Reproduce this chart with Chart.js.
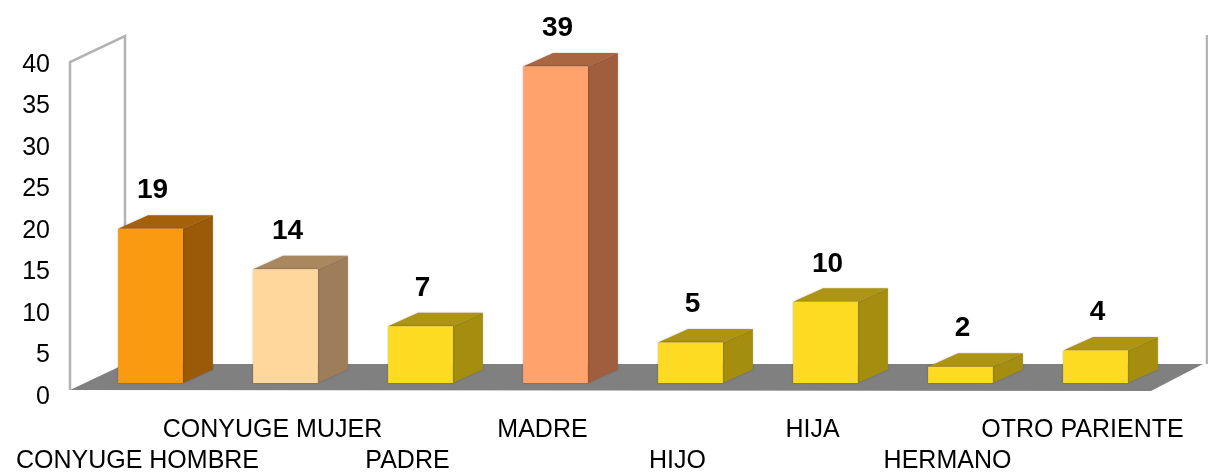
<!DOCTYPE html>
<html>
<head>
<meta charset="utf-8">
<script src="https://cdn.jsdelivr.net/npm/chart.js@4.4.1/dist/chart.umd.min.js"></script>
<style>
    html, body { margin: 0; padding: 0; background: #fff; }
    canvas { display: block; }
</style>
</head>
<body>
<canvas id="parentesco-chart" width="1208" height="472"></canvas>
<script>
// Parentesco con el jefe de hogar
const categories = ['CONYUGE HOMBRE', 'CONYUGE MUJER', 'PADRE', 'MADRE', 'HIJO', 'HIJA', 'HERMANO', 'OTRO PARIENTE'];
const values = [19, 14, 7, 39, 5, 10, 2, 4];
const yTicks = [0, 5, 10, 15, 20, 25, 30, 35, 40];

// front / side / top colour per bar
const frontColors = ['#F99A10', '#FFD69C', '#FDDB22', '#FFA26C', '#FDDB22', '#FDDB22', '#FDDB22', '#FDDB22'];
const sideColors  = ['#9B5A08', '#9E7D5B', '#A58D10', '#A15E3E', '#A58D10', '#A58D10', '#A58D10', '#A58D10'];
const topColors   = ['#A5610A', '#A9875F', '#AD9414', '#AA6541', '#AD9414', '#AD9414', '#AD9414', '#AD9414'];

const FONT = "'Liberation Sans', Arial, sans-serif";

// 3D geometry (pixels)
const WALL_DEPTH = { dx: 55, dy: -26 };
const BAR_SHIFT = { dx: 13, dy: -14 };
const BAR_DEPTH = { dx: 30, dy: -13.5 };
const BAR_SCALE = 0.978;

// Odd categories on the upper label row, even ones on the lower row
const xLabels = categories.map((c, i) => i % 2 === 0 ? ['', c] : [c, '']);

function poly(ctx, pts, fill) {
    ctx.beginPath();
    ctx.moveTo(pts[0][0], pts[0][1]);
    for (let i = 1; i < pts.length; i++) ctx.lineTo(pts[i][0], pts[i][1]);
    ctx.closePath();
    ctx.fillStyle = fill;
    ctx.fill();
}

const room3d = {
    id: 'room3d',
    beforeDatasetsDraw(chart) {
        const { ctx, chartArea, scales } = chart;
        const y0 = scales.y.getPixelForValue(0) - 7;
        const yTop = scales.y.getPixelForValue(40) - 3;
        const l = chartArea.left, r = chartArea.right + 1;
        const { dx, dy } = WALL_DEPTH;

        ctx.save();
        // floor
        poly(ctx, [[l, y0], [r, y0 + 1], [r + dx - 3, y0 + dy], [l + dx, y0 + dy]], '#808080');

        // left wall outline and back right edge
        ctx.strokeStyle = '#B3B3B3';
        ctx.lineWidth = 2.5;
        ctx.beginPath();
        ctx.moveTo(l, y0);
        ctx.lineTo(l, yTop);
        ctx.lineTo(l + dx, yTop + dy);
        ctx.lineTo(l + dx, y0 + dy);
        ctx.moveTo(r + dx + 1, yTop + dy - 1);
        ctx.lineTo(r + dx + 1, y0 + dy);
        ctx.stroke();
        ctx.restore();
    },
    afterDatasetsDraw(chart) {
        const { ctx } = chart;
        const meta = chart.getDatasetMeta(0);
        ctx.save();
        meta.data.forEach((bar, i) => {
            const props = bar.getProps(['x', 'y', 'base', 'width'], true);
            const left = props.x - props.width / 2 + BAR_SHIFT.dx;
            const right = props.x + props.width / 2 + BAR_SHIFT.dx;
            const bottom = props.base + BAR_SHIFT.dy;
            const top = bottom - (props.base - props.y) * BAR_SCALE;
            const { dx, dy } = BAR_DEPTH;

            ctx.shadowColor = 'rgba(0,0,0,0.25)';
            ctx.shadowBlur = 2;
            // side face
            poly(ctx, [[right, bottom], [right, top], [right + dx, top + dy], [right + dx, bottom + dy]], sideColors[i]);
            // top face
            poly(ctx, [[left, top], [left + dx, top + dy], [right + dx, top + dy], [right, top]], topColors[i]);
            // front face
            poly(ctx, [[left, bottom], [left, top], [right, top], [right, bottom]], frontColors[i]);
            ctx.shadowBlur = 0;

            // value label
            ctx.fillStyle = '#000';
            ctx.font = 'bold 28px ' + FONT;
            ctx.textAlign = 'center';
            ctx.textBaseline = 'middle';
            ctx.fillText(String(values[i]), (left + right) / 2 + 2, top - 38);
        });
        ctx.restore();
    }
};

const ctx = document.getElementById('parentesco-chart').getContext('2d');
new Chart(ctx, {
    type: 'bar',
    data: {
        labels: xLabels,
        datasets: [{
            data: values,
            backgroundColor: 'rgba(0,0,0,0)',
            borderWidth: 0,
            categoryPercentage: 1,
            barPercentage: 0.48
        }]
    },
    options: {
        responsive: false,
        devicePixelRatio: 1,
        animation: false,
        layout: { padding: { top: 65, right: 58, left: 0, bottom: 0 } },
        plugins: {
            legend: { display: false },
            tooltip: { enabled: false }
        },
        scales: {
            x: {
                grid: { display: false, drawTicks: false },
                border: { display: false },
                ticks: {
                    autoSkip: false,
                    maxRotation: 0,
                    minRotation: 0,
                    padding: 18,
                    color: '#000',
                    font: { family: FONT, size: 25, lineHeight: 1.24 }
                },
                afterFit(scale) {
                    scale.height = 75;
                    // long edge labels may spill past the plot area
                    scale.paddingLeft = 0;
                    scale.paddingRight = 0;
                }
            },
            y: {
                min: 0,
                max: 40,
                grid: { display: false, drawTicks: false },
                border: { display: false },
                afterBuildTicks(scale) { scale.ticks = yTicks.map(v => ({ value: v })); },
                ticks: {
                    padding: 20,
                    color: '#000',
                    font: { family: FONT, size: 25 }
                },
                afterFit(scale) { scale.width = 70; }
            }
        }
    },
    plugins: [room3d]
});
</script>
</body>
</html>
